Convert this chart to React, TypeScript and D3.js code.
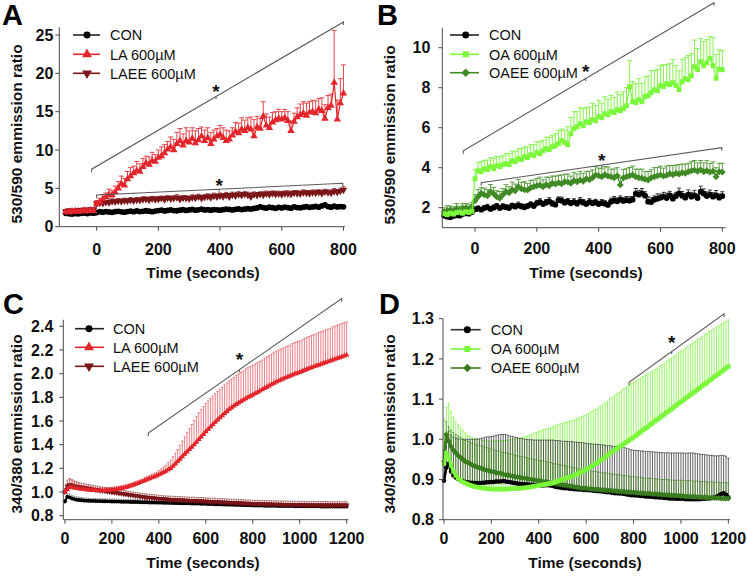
import React from "react";
import * as d3 from "d3";

const FONT = "'Liberation Sans', Arial, Helvetica, sans-serif";

// sampling grids (seconds)
const TIME_AB = d3.range(-100, 801, 10);
const TIME_CD = d3.range(0, 1201, 10);

// ---------- Panel A : 530/590, LA ----------
const A_CON = [1.75,1.70,1.65,1.72,1.68,1.74,1.78,1.72,1.80,1.76,
 1.85,1.95,1.90,1.98,1.92,1.88,1.96,2.00,1.94,1.90,
 1.98,2.02,1.95,2.05,1.98,2.00,2.08,2.02,1.96,2.04,
 2.10,2.15,2.05,2.12,2.20,2.10,2.08,2.15,2.22,2.12,
 2.18,2.25,2.15,2.20,2.28,2.18,2.22,2.16,2.24,2.20,
 2.15,2.22,2.30,2.25,2.18,2.26,2.32,2.24,2.28,2.35,
 2.30,2.38,2.45,2.60,2.50,2.42,2.55,2.48,2.40,2.52,
 2.45,2.55,2.48,2.42,2.58,2.50,2.46,2.55,2.62,2.52,
 2.58,2.65,2.55,2.70,2.85,2.62,2.55,2.68,2.58,2.62,2.60];
const A_CON_ERR = [0.15,0.12,0.14,0.10,0.13,0.12,0.15,0.11,0.14,0.12,
 0.15,0.18,0.14,0.16,0.12,0.15,0.17,0.13,0.16,0.14,
 0.15,0.12,0.16,0.14,0.18,0.13,0.15,0.17,0.12,0.16,
 0.18,0.14,0.16,0.15,0.19,0.13,0.17,0.15,0.18,0.14,
 0.16,0.19,0.15,0.17,0.14,0.18,0.16,0.15,0.19,0.17,
 0.15,0.18,0.16,0.20,0.14,0.17,0.19,0.15,0.18,0.16,
 0.20,0.17,0.22,0.25,0.19,0.18,0.21,0.17,0.20,0.18,
 0.19,0.22,0.18,0.20,0.23,0.17,0.21,0.19,0.22,0.18,
 0.20,0.23,0.19,0.21,0.25,0.20,0.18,0.22,0.19,0.21,0.20];
const A_LA = [1.95,1.90,2.00,2.05,1.98,2.02,2.10,2.05,2.15,2.08,
 3.00,3.20,3.60,3.90,4.20,4.10,4.50,5.00,5.60,5.40,
 6.20,6.60,7.00,7.30,7.20,7.80,8.30,8.10,8.60,8.50,
 9.00,9.20,9.60,10.10,10.40,10.00,10.80,11.20,10.60,11.20,
 11.00,11.50,10.90,11.30,11.80,11.20,11.60,10.80,11.40,11.80,
 12.00,11.60,11.20,11.40,11.90,12.40,12.20,12.70,12.50,12.90,
 12.70,11.80,13.00,12.80,14.40,13.20,12.90,13.60,13.90,14.10,
 14.00,14.20,13.80,12.50,13.70,14.30,14.60,14.80,14.50,14.90,
 15.00,14.80,15.30,15.10,14.10,15.50,15.80,18.80,14.00,16.10,17.40];
const A_LA_ERR = [0.25,0.20,0.30,0.20,0.25,0.20,0.30,0.20,0.25,0.30,
 0.40,0.50,0.60,0.50,0.70,0.60,0.80,0.90,1.00,0.90,
 1.00,1.10,0.90,1.20,1.00,1.10,0.90,1.00,1.10,0.90,
 1.00,1.20,1.10,1.00,1.30,1.40,1.50,1.60,1.50,1.70,
 1.50,1.40,1.60,1.50,1.20,1.40,1.30,1.50,1.20,1.00,
 1.20,1.30,1.40,1.10,1.00,1.20,1.30,1.50,1.40,1.30,
 1.60,2.20,1.40,1.30,1.90,1.50,1.40,1.30,1.10,1.20,
 1.00,1.10,1.20,1.30,1.10,1.20,1.40,1.50,1.60,1.40,
 1.50,1.60,1.40,1.70,1.80,1.60,1.50,6.80,2.50,3.20,3.70];
const A_LAEE = [2.00,2.10,1.95,2.05,2.15,2.10,2.20,2.15,2.25,2.20,
 3.00,3.10,3.05,3.20,3.15,3.30,3.25,3.35,3.30,3.40,
 3.35,3.45,3.40,3.50,3.45,3.55,3.60,3.50,3.65,3.55,
 3.60,3.70,3.55,3.75,3.65,3.70,3.80,3.60,3.75,3.70,
 3.65,3.80,3.75,3.90,3.70,3.85,3.95,3.80,4.00,3.90,
 4.05,3.95,4.10,3.90,4.15,4.05,4.20,4.10,4.25,4.15,
 3.90,4.20,4.10,4.25,4.15,4.30,4.20,4.35,4.25,4.30,
 4.20,4.35,4.30,4.25,4.40,4.35,4.30,4.45,4.40,4.35,
 4.45,4.40,4.50,4.35,4.55,4.45,4.40,4.60,4.50,4.65,4.80];
const A_LAEE_ERR = [0.20,0.25,0.18,0.22,0.24,0.20,0.26,0.22,0.25,0.20,
 0.30,0.28,0.32,0.26,0.30,0.34,0.28,0.31,0.27,0.33,
 0.30,0.35,0.28,0.32,0.30,0.36,0.29,0.33,0.31,0.35,
 0.32,0.30,0.36,0.28,0.34,0.31,0.37,0.30,0.33,0.35,
 0.31,0.36,0.30,0.34,0.38,0.32,0.35,0.30,0.37,0.33,
 0.35,0.30,0.38,0.33,0.36,0.31,0.37,0.34,0.32,0.36,
 0.40,0.33,0.36,0.31,0.38,0.34,0.35,0.32,0.37,0.33,
 0.36,0.32,0.38,0.34,0.31,0.37,0.33,0.36,0.32,0.38,
 0.34,0.37,0.32,0.39,0.33,0.36,0.35,0.38,0.34,0.37,0.40];

// ---------- Panel B : 530/590, OA ----------
const B_CON = [1.60,1.55,1.52,1.58,1.62,1.60,1.68,1.72,1.70,1.78,
 1.92,1.95,1.90,1.98,2.02,1.94,2.00,2.08,1.98,2.05,
 2.02,1.98,2.10,2.05,2.12,2.06,2.02,2.08,2.15,2.08,
 2.22,2.28,2.18,2.25,2.32,2.20,2.15,2.38,2.35,2.25,
 2.30,2.22,2.28,2.20,2.32,2.25,2.18,2.28,2.22,2.26,
 2.18,2.24,2.20,2.14,2.30,2.36,2.32,2.40,2.34,2.38,
 2.35,2.40,2.70,2.65,2.72,2.60,2.30,2.28,2.40,2.45,
 2.50,2.55,2.48,2.62,2.45,2.58,2.72,2.60,2.50,2.65,
 2.55,2.62,2.48,2.80,2.70,2.58,2.65,2.55,2.62,2.50,2.58];
const B_CON_ERR = [0.08,0.10,0.09,0.11,0.08,0.10,0.12,0.09,0.11,0.10,
 0.12,0.14,0.11,0.13,0.15,0.12,0.14,0.13,0.11,0.15,
 0.13,0.15,0.12,0.14,0.16,0.13,0.15,0.12,0.14,0.16,
 0.15,0.17,0.14,0.16,0.18,0.15,0.13,0.16,0.18,0.15,
 0.16,0.14,0.17,0.15,0.18,0.16,0.14,0.17,0.15,0.16,
 0.14,0.17,0.15,0.13,0.18,0.20,0.17,0.19,0.16,0.18,
 0.20,0.16,0.26,0.22,0.24,0.20,0.25,0.22,0.19,0.24,
 0.18,0.22,0.25,0.20,0.23,0.19,0.26,0.21,0.20,0.24,
 0.22,0.25,0.20,0.28,0.24,0.21,0.23,0.20,0.24,0.19,0.22];
const B_OA = [1.70,1.65,1.72,1.68,1.75,1.78,1.72,1.80,1.76,1.82,
 3.45,3.85,3.80,3.95,3.90,4.05,3.95,4.10,4.05,4.15,
 4.20,4.15,4.35,4.30,4.45,4.40,4.55,4.50,4.65,4.60,
 4.75,4.70,4.85,4.95,4.90,5.05,5.10,5.20,5.35,5.25,
 5.15,5.70,5.95,6.05,6.20,6.10,6.30,6.25,6.40,6.35,
 6.55,6.50,6.70,6.65,6.80,6.75,6.90,6.85,6.95,7.10,
 8.05,7.30,7.25,7.40,7.30,7.55,7.60,7.75,7.90,7.85,
 8.10,8.05,8.20,8.15,8.25,8.10,7.90,8.30,8.45,8.40,
 8.60,9.05,8.90,9.30,9.10,9.25,9.47,9.10,8.47,8.92,8.90];
const B_OA_ERR = [0.12,0.15,0.10,0.14,0.12,0.16,0.13,0.15,0.12,0.14,
 0.45,0.40,0.50,0.42,0.48,0.44,0.52,0.46,0.50,0.45,
 0.50,0.55,0.48,0.52,0.50,0.56,0.48,0.54,0.50,0.55,
 0.55,0.60,0.52,0.58,0.62,0.55,0.60,0.65,0.58,0.62,
 0.90,0.80,0.85,0.75,0.80,0.85,0.70,0.78,0.82,0.75,
 0.80,0.72,0.85,0.78,0.82,0.76,0.88,0.80,0.84,0.90,
 1.30,1.00,0.95,1.05,0.92,1.00,0.98,1.10,0.95,1.05,
 1.00,1.10,0.95,1.05,1.15,1.00,0.95,1.10,1.05,1.20,
 1.10,1.33,1.05,1.17,1.20,1.15,1.08,1.40,1.20,0.97,0.95];
const B_OAEE = [1.80,1.85,1.90,1.82,1.95,1.88,1.98,2.00,1.92,2.05,
 2.35,2.55,2.72,2.65,2.60,2.80,2.70,2.55,2.47,2.65,
 2.80,2.75,2.90,2.85,3.05,2.95,2.90,2.88,3.00,3.05,
 3.10,3.13,3.05,3.15,3.10,3.22,3.18,3.25,3.20,3.30,
 3.28,3.22,3.35,3.30,3.38,3.32,3.45,3.40,3.50,3.64,
 3.60,3.55,3.65,3.58,3.55,3.50,3.60,3.14,3.50,3.55,
 3.60,3.64,3.55,3.50,3.47,3.42,3.38,3.50,3.55,3.60,
 3.64,3.58,3.62,3.70,3.65,3.72,3.68,3.75,3.72,3.80,
 3.85,3.88,3.82,3.90,3.80,3.85,3.78,3.82,3.55,3.80,3.78];
const B_OAEE_ERR = [0.20,0.25,0.18,0.22,0.26,0.20,0.24,0.21,0.25,0.22,
 0.30,0.35,0.28,0.33,0.30,0.36,0.32,0.30,0.34,0.31,
 0.35,0.30,0.38,0.33,0.36,0.32,0.40,0.34,0.37,0.33,
 0.36,0.40,0.34,0.38,0.42,0.36,0.40,0.37,0.43,0.38,
 0.40,0.36,0.42,0.38,0.44,0.40,0.37,0.42,0.39,0.41,
 0.38,0.42,0.40,0.45,0.38,0.43,0.40,0.36,0.42,0.39,
 0.41,0.44,0.38,0.42,0.46,0.40,0.43,0.39,0.45,0.41,
 0.44,0.40,0.46,0.42,0.45,0.41,0.48,0.43,0.46,0.42,
 0.45,0.48,0.42,0.46,0.44,0.50,0.43,0.47,0.45,0.42,0.44];

// ---------- Panel C : 340/380, LA ----------
const C_CON = [0.920,0.960,0.955,0.945,0.940,0.935,0.932,0.930,0.928,0.927,
 0.926,0.925,0.925,0.924,0.923,0.923,0.922,0.922,0.921,0.921,
 0.920,0.920,0.919,0.919,0.918,0.918,0.917,0.917,0.916,0.916,
 0.915,0.915,0.914,0.914,0.913,0.913,0.912,0.912,0.911,0.911,
 0.910,0.910,0.909,0.909,0.908,0.908,0.907,0.907,0.906,0.906,
 0.905,0.905,0.904,0.904,0.903,0.903,0.902,0.902,0.901,0.901,
 0.900,0.899,0.899,0.898,0.897,0.897,0.896,0.895,0.895,0.894,
 0.893,0.893,0.892,0.891,0.891,0.890,0.889,0.889,0.888,0.887,
 0.887,0.886,0.886,0.885,0.885,0.884,0.884,0.884,0.883,0.883,
 0.883,0.882,0.882,0.882,0.881,0.881,0.881,0.881,0.880,0.880,
 0.880,0.880,0.880,0.879,0.879,0.879,0.879,0.879,0.879,0.878,
 0.878,0.878,0.878,0.878,0.878,0.878,0.878,0.878,0.878,0.878,0.878];
const C_CON_ERR = [0.020,0.030,0.030,0.028,0.026,0.025,0.024,0.023,0.022,0.022,
 0.021,0.021,0.020,0.021,0.020,0.020,0.021,0.020,0.020,0.021,
 0.020,0.020,0.021,0.020,0.020,0.021,0.020,0.020,0.020,0.021,
 0.020,0.021,0.020,0.020,0.021,0.020,0.020,0.021,0.020,0.020,
 0.021,0.020,0.020,0.021,0.020,0.020,0.021,0.020,0.020,0.021,
 0.020,0.020,0.021,0.020,0.020,0.021,0.020,0.021,0.020,0.020,
 0.021,0.020,0.020,0.021,0.020,0.021,0.020,0.020,0.021,0.020,
 0.020,0.021,0.020,0.020,0.021,0.020,0.020,0.021,0.020,0.021,
 0.020,0.020,0.021,0.020,0.021,0.020,0.020,0.021,0.020,0.020,
 0.021,0.020,0.020,0.021,0.020,0.020,0.021,0.020,0.021,0.020,
 0.020,0.021,0.020,0.020,0.021,0.020,0.021,0.020,0.020,0.021,
 0.020,0.020,0.021,0.020,0.021,0.020,0.020,0.021,0.020,0.020,0.021];
const C_LA = [1.000,1.020,1.040,1.040,1.035,1.030,1.028,1.025,1.022,1.020,
 1.018,1.016,1.014,1.013,1.012,1.012,1.012,1.013,1.014,1.016,
 1.018,1.021,1.024,1.027,1.031,1.035,1.040,1.046,1.052,1.059,
 1.066,1.073,1.081,1.089,1.097,1.105,1.113,1.121,1.129,1.137,
 1.146,1.156,1.166,1.177,1.189,1.200,1.218,1.238,1.258,1.279,
 1.300,1.320,1.340,1.360,1.380,1.400,1.422,1.444,1.466,1.488,
 1.510,1.530,1.550,1.570,1.590,1.610,1.628,1.646,1.664,1.682,
 1.700,1.714,1.728,1.741,1.754,1.766,1.778,1.790,1.801,1.811,
 1.821,1.832,1.843,1.854,1.865,1.876,1.887,1.898,1.909,1.920,
 1.930,1.939,1.948,1.957,1.966,1.974,1.982,1.990,1.998,2.005,
 2.012,2.020,2.028,2.036,2.044,2.052,2.059,2.066,2.073,2.080,
 2.087,2.094,2.101,2.108,2.115,2.122,2.129,2.136,2.143,2.150,2.158];
const C_LA_ERR = [0.030,0.050,0.070,0.060,0.050,0.040,0.040,0.030,0.030,0.030,
 0.030,0.030,0.020,0.020,0.020,0.020,0.020,0.020,0.020,0.020,
 0.020,0.020,0.020,0.020,0.020,0.020,0.020,0.020,0.020,0.020,
 0.020,0.020,0.020,0.020,0.025,0.025,0.025,0.030,0.030,0.030,
 0.035,0.040,0.045,0.050,0.060,0.070,0.080,0.090,0.100,0.115,
 0.130,0.145,0.160,0.175,0.190,0.205,0.215,0.225,0.230,0.235,
 0.240,0.240,0.240,0.240,0.240,0.240,0.240,0.240,0.240,0.240,
 0.240,0.240,0.240,0.245,0.245,0.245,0.245,0.250,0.250,0.250,
 0.250,0.250,0.250,0.250,0.250,0.255,0.255,0.255,0.255,0.260,
 0.260,0.260,0.260,0.260,0.260,0.260,0.260,0.265,0.265,0.265,
 0.265,0.265,0.270,0.270,0.270,0.270,0.270,0.270,0.275,0.275,
 0.275,0.275,0.275,0.275,0.280,0.280,0.280,0.280,0.280,0.280,0.280];
const C_LAEE = [1.000,1.050,1.060,1.055,1.050,1.046,1.042,1.038,1.035,1.032,
 1.029,1.026,1.023,1.020,1.017,1.014,1.011,1.008,1.005,1.002,
 0.999,0.996,0.993,0.990,0.987,0.984,0.981,0.978,0.975,0.972,
 0.969,0.966,0.963,0.960,0.957,0.955,0.953,0.951,0.949,0.947,
 0.945,0.943,0.941,0.939,0.937,0.936,0.935,0.934,0.933,0.932,
 0.931,0.930,0.929,0.928,0.927,0.926,0.925,0.924,0.923,0.922,
 0.921,0.920,0.919,0.918,0.917,0.916,0.915,0.914,0.913,0.912,
 0.911,0.910,0.909,0.908,0.907,0.906,0.905,0.904,0.903,0.902,
 0.901,0.900,0.900,0.899,0.899,0.898,0.898,0.897,0.897,0.896,
 0.896,0.895,0.895,0.894,0.894,0.893,0.893,0.893,0.892,0.892,
 0.892,0.891,0.891,0.891,0.890,0.890,0.890,0.890,0.889,0.889,
 0.889,0.889,0.889,0.888,0.888,0.888,0.888,0.888,0.888,0.888,0.888];
const C_LAEE_ERR = [0.030,0.050,0.055,0.050,0.045,0.042,0.040,0.038,0.036,0.035,
 0.034,0.033,0.033,0.032,0.032,0.031,0.031,0.030,0.030,0.030,
 0.030,0.030,0.029,0.029,0.029,0.029,0.029,0.028,0.028,0.028,
 0.028,0.028,0.028,0.028,0.028,0.028,0.028,0.028,0.028,0.028,
 0.028,0.028,0.028,0.028,0.028,0.029,0.029,0.029,0.029,0.029,
 0.029,0.029,0.029,0.029,0.029,0.030,0.030,0.030,0.030,0.030,
 0.030,0.030,0.030,0.030,0.030,0.030,0.030,0.030,0.030,0.030,
 0.030,0.030,0.030,0.030,0.030,0.030,0.030,0.030,0.030,0.030,
 0.030,0.030,0.030,0.030,0.030,0.030,0.030,0.030,0.030,0.030,
 0.030,0.030,0.030,0.030,0.030,0.030,0.030,0.030,0.030,0.030,
 0.030,0.030,0.030,0.030,0.030,0.030,0.030,0.030,0.030,0.030,
 0.030,0.030,0.030,0.030,0.030,0.030,0.030,0.030,0.030,0.030,0.030];

// ---------- Panel D : 340/380, OA ----------
const D_CON = [0.897,0.930,0.940,0.920,0.910,0.905,0.901,0.898,0.896,0.894,
 0.893,0.892,0.892,0.891,0.891,0.891,0.892,0.892,0.893,0.893,
 0.894,0.894,0.895,0.895,0.895,0.896,0.895,0.894,0.893,0.892,
 0.891,0.890,0.889,0.889,0.888,0.888,0.887,0.887,0.886,0.886,
 0.886,0.885,0.885,0.886,0.886,0.885,0.884,0.882,0.881,0.880,
 0.879,0.878,0.878,0.877,0.877,0.876,0.876,0.875,0.875,0.874,
 0.874,0.873,0.873,0.872,0.872,0.871,0.871,0.870,0.869,0.868,
 0.868,0.867,0.866,0.866,0.865,0.865,0.864,0.863,0.862,0.861,
 0.861,0.860,0.860,0.859,0.859,0.858,0.858,0.857,0.857,0.856,
 0.856,0.855,0.855,0.854,0.854,0.853,0.853,0.853,0.852,0.852,
 0.852,0.852,0.851,0.851,0.851,0.851,0.851,0.851,0.851,0.852,
 0.852,0.853,0.853,0.854,0.855,0.857,0.860,0.864,0.866,0.862,0.856];
const D_CON_ERR = [0.050,0.080,0.080,0.090,0.095,0.098,0.100,0.102,0.104,0.106,
 0.107,0.108,0.108,0.109,0.110,0.110,0.111,0.112,0.113,0.113,
 0.113,0.114,0.115,0.116,0.117,0.116,0.117,0.116,0.115,0.115,
 0.114,0.114,0.113,0.113,0.112,0.112,0.112,0.112,0.112,0.112,
 0.112,0.113,0.113,0.112,0.112,0.113,0.114,0.115,0.116,0.116,
 0.116,0.117,0.117,0.117,0.117,0.117,0.117,0.117,0.117,0.117,
 0.116,0.116,0.116,0.116,0.116,0.116,0.116,0.116,0.116,0.116,
 0.116,0.116,0.116,0.116,0.116,0.116,0.116,0.115,0.114,0.113,
 0.112,0.112,0.112,0.112,0.112,0.112,0.112,0.112,0.112,0.112,
 0.112,0.112,0.112,0.112,0.113,0.113,0.113,0.113,0.114,0.114,
 0.114,0.114,0.114,0.115,0.115,0.115,0.114,0.113,0.112,0.110,
 0.110,0.108,0.107,0.106,0.104,0.102,0.099,0.096,0.094,0.096,0.097];
const D_OA = [0.940,0.965,0.955,0.935,0.920,0.910,0.903,0.898,0.894,0.891,
 0.888,0.886,0.884,0.882,0.881,0.880,0.879,0.878,0.877,0.877,
 0.876,0.876,0.876,0.876,0.876,0.876,0.876,0.876,0.877,0.877,
 0.877,0.878,0.878,0.879,0.879,0.880,0.881,0.882,0.883,0.884,
 0.885,0.886,0.887,0.888,0.889,0.890,0.892,0.894,0.896,0.898,
 0.900,0.902,0.904,0.906,0.908,0.910,0.913,0.916,0.919,0.922,
 0.925,0.928,0.932,0.935,0.939,0.943,0.947,0.951,0.955,0.960,
 0.965,0.969,0.973,0.977,0.981,0.985,0.989,0.993,0.997,1.001,
 1.005,1.009,1.014,1.018,1.023,1.027,1.031,1.036,1.040,1.045,
 1.049,1.053,1.058,1.062,1.067,1.071,1.075,1.080,1.084,1.089,
 1.093,1.097,1.102,1.106,1.111,1.115,1.119,1.124,1.128,1.133,
 1.137,1.141,1.146,1.150,1.155,1.159,1.163,1.168,1.172,1.177,1.181];
const D_OA_ERR = [0.110,0.115,0.135,0.135,0.135,0.135,0.133,0.130,0.128,0.125,
 0.122,0.121,0.120,0.120,0.119,0.119,0.119,0.119,0.119,0.119,
 0.119,0.119,0.120,0.120,0.120,0.121,0.121,0.122,0.122,0.123,
 0.123,0.124,0.125,0.126,0.127,0.128,0.129,0.130,0.132,0.133,
 0.135,0.136,0.137,0.137,0.138,0.138,0.139,0.139,0.140,0.140,
 0.140,0.140,0.139,0.139,0.139,0.138,0.138,0.137,0.137,0.136,
 0.136,0.136,0.136,0.136,0.135,0.135,0.135,0.135,0.135,0.135,
 0.135,0.135,0.136,0.136,0.136,0.137,0.137,0.137,0.137,0.137,
 0.137,0.136,0.135,0.134,0.133,0.132,0.131,0.130,0.129,0.128,
 0.128,0.128,0.127,0.127,0.127,0.127,0.126,0.126,0.126,0.126,
 0.126,0.126,0.125,0.125,0.125,0.124,0.124,0.124,0.123,0.123,
 0.123,0.122,0.122,0.121,0.120,0.120,0.119,0.118,0.117,0.117,0.116];
const D_OAEE = [0.945,1.012,0.995,0.982,0.973,0.966,0.960,0.955,0.950,0.945,
 0.942,0.939,0.936,0.933,0.931,0.929,0.927,0.925,0.923,0.922,
 0.920,0.919,0.917,0.916,0.915,0.913,0.912,0.911,0.910,0.908,
 0.907,0.906,0.905,0.904,0.903,0.902,0.901,0.900,0.899,0.898,
 0.897,0.896,0.895,0.894,0.893,0.892,0.891,0.890,0.889,0.888,
 0.887,0.886,0.885,0.884,0.883,0.882,0.881,0.880,0.879,0.878,
 0.878,0.877,0.877,0.876,0.876,0.875,0.875,0.874,0.874,0.873,
 0.873,0.872,0.872,0.871,0.871,0.870,0.870,0.869,0.869,0.868,
 0.868,0.867,0.867,0.866,0.866,0.865,0.865,0.865,0.864,0.864,
 0.863,0.863,0.862,0.862,0.862,0.861,0.861,0.860,0.860,0.860,
 0.859,0.859,0.858,0.858,0.858,0.857,0.857,0.857,0.856,0.856,
 0.856,0.855,0.855,0.855,0.854,0.854,0.854,0.853,0.853,0.853,0.853];
const D_OAEE_ERR = [0.030,0.032,0.036,0.041,0.044,0.046,0.048,0.050,0.051,0.052,
 0.053,0.054,0.054,0.055,0.055,0.055,0.056,0.056,0.056,0.056,
 0.056,0.055,0.055,0.055,0.055,0.054,0.054,0.054,0.054,0.054,
 0.053,0.053,0.053,0.053,0.052,0.052,0.052,0.052,0.051,0.051,
 0.051,0.051,0.050,0.050,0.050,0.050,0.049,0.049,0.049,0.049,
 0.048,0.048,0.048,0.048,0.047,0.047,0.047,0.046,0.046,0.046,
 0.045,0.045,0.045,0.044,0.044,0.044,0.043,0.043,0.043,0.042,
 0.042,0.042,0.041,0.041,0.041,0.040,0.040,0.040,0.040,0.039,
 0.039,0.039,0.039,0.039,0.038,0.038,0.038,0.038,0.038,0.038,
 0.038,0.038,0.038,0.038,0.038,0.038,0.038,0.038,0.038,0.038,
 0.039,0.039,0.039,0.039,0.039,0.039,0.039,0.039,0.039,0.039,
 0.039,0.039,0.039,0.039,0.039,0.039,0.039,0.039,0.039,0.039,0.039];

// tick labels
const X_TICKS_AB = [0, 200, 400, 600, 800];
const X_TICKS_CD = [0, 200, 400, 600, 800, 1000, 1200];
const Y_TICKS_A = [0, 5, 10, 15, 20, 25];
const Y_TICKS_B = [2, 4, 6, 8, 10];
const Y_TICKS_C = [0.8, 1.0, 1.2, 1.4, 1.6, 1.8, 2.0, 2.2, 2.4];
const Y_TICKS_D = [0.8, 0.9, 1.0, 1.1, 1.2, 1.3];

const AXIS = "#4a4a4a";
const SIG = "#5a5a5a";

type Shape = "circle" | "up" | "down" | "square" | "diamond";
type Series = {
  label: string; values: number[]; errors: number[];
  color: string; lineColor: string; errColor: string; errW: number; capW: number;
  shape: Shape; size: number; lineW: number; legendSize: number; legendLine: string;
};

function symPath(shape: Shape, size: number): string {
  const t = shape === "circle" ? d3.symbolCircle : (shape === "square" || shape === "diamond") ? d3.symbolSquare : d3.symbolTriangle;
  return d3.symbol().type(t).size(size)() as string;
}
function symRot(shape: Shape) { return shape === "down" ? 180 : shape === "diamond" ? 45 : 0; }

type Cfg = {
  letter: string; letterX: number; letterY: number;
  xDomain: [number, number]; xRange: [number, number];
  yDomain: [number, number]; yRange: [number, number];
  xTicks: number[]; yTicks: number[]; yFmt: (v: number) => string;
  yGap: number; xTickBase: number;
  xTitle: [number, number]; yTitle: [number, number]; yText: string;
  times: number[]; series: Series[]; errOrder: number[]; meanOrder: number[];
  legend: { x1: number; x2: number; mx: number; tx: number; ys: number[] };
  sig: { a: [number, number]; b: [number, number]; star: [number, number]; hooks: boolean }[];
};

function Panel({ c }: { c: Cfg }) {
  const xs = d3.scaleLinear().domain(c.xDomain).range(c.xRange);
  const ys = d3.scaleLinear().domain(c.yDomain).range(c.yRange);
  const [xl, xr] = c.xRange;
  const [yb, yt] = c.yRange;
  const n = c.times.length;

  const errPath = (s: Series) => {
    let d = "";
    for (let i = 0; i < Math.min(n, s.values.length); i++) {
      const x = xs(c.times[i]);
      const y0 = ys(s.values[i]);
      const y1 = ys(s.values[i] + s.errors[i]);
      d += `M${x},${y0}V${y1}M${x - s.capW / 2},${y1}H${x + s.capW / 2}`;
    }
    return d;
  };
  const line = (s: Series) =>
    d3.line<number>().x((_, i) => xs(c.times[i])).y((v) => ys(v))(s.values.slice(0, n)) as string;

  return (
    <g>
      {c.errOrder.map((k) => {
        const s = c.series[k];
        return <path key={"e" + k} d={errPath(s)} stroke={s.errColor} strokeWidth={s.errW} fill="none" />;
      })}
      {c.meanOrder.map((k) => {
        const s = c.series[k];
        const p = symPath(s.shape, s.size);
        const r = symRot(s.shape);
        return (
          <g key={"m" + k}>
            <path d={line(s)} stroke={s.lineColor} strokeWidth={s.lineW} fill="none" />
            {s.values.slice(0, n).map((v, i) => (
              <path key={i} d={p} fill={s.color}
                transform={`translate(${xs(c.times[i])},${ys(v)}) rotate(${r})`} />
            ))}
          </g>
        );
      })}
      <g stroke={AXIS} strokeWidth={1} fill="none">
        <line x1={xl} x2={xl} y1={yb} y2={yt} />
        <line x1={xl} x2={xr} y1={yb} y2={yb} />
        {c.yTicks.map((v) => <line key={"yt" + v} x1={xl - 4} x2={xl} y1={ys(v)} y2={ys(v)} />)}
        {c.xTicks.map((v) => <line key={"xt" + v} x1={xs(v)} x2={xs(v)} y1={yb} y2={yb + 4} />)}
      </g>
      <g fontFamily={FONT} fontWeight="bold" fontSize={16} fill="#111">
        {c.yTicks.map((v) => (
          <text key={"yl" + v} x={xl - c.yGap} y={ys(v)} dy="0.36em" textAnchor="end">{c.yFmt(v)}</text>
        ))}
        {c.xTicks.map((v) => (
          <text key={"xl" + v} x={xs(v)} y={c.xTickBase} textAnchor="middle">{v}</text>
        ))}
      </g>
      <text x={c.xTitle[0]} y={c.xTitle[1]} textAnchor="middle" fontFamily={FONT} fontWeight="bold" fontSize={15.5} fill="#111">Time (seconds)</text>
      <text transform={`translate(${c.yTitle[0]},${c.yTitle[1]}) rotate(-90)`} dy="0.36em" textAnchor="middle"
        fontFamily={FONT} fontWeight="bold" fontSize={15.5} fill="#111">{c.yText}</text>
      <text x={c.letterX} y={c.letterY} fontFamily={FONT} fontWeight="bold" fontSize={29} fill="#000">{c.letter}</text>
      {c.sig.map((g, i) => {
        const ax = xs(g.a[0]), ay = ys(g.a[1]), bx = xs(g.b[0]), by = ys(g.b[1]);
        const sx = xs(g.star[0]), sy = ys(g.star[1]);
        const f = (sx - ax) / (bx - ax);
        const my = ay + f * (by - ay);
        return (
          <g key={"s" + i}>
            <path d={`M${ax},${ay + (g.hooks ? 3 : 0)}L${ax},${ay}L${bx},${by}L${bx},${by + (g.hooks ? 3 : 0)}M${sx},${my}V${my + 2.5}`}
              stroke={SIG} strokeWidth={1.1} fill="none" />
            <text x={sx} y={sy + 10} textAnchor="middle" fontFamily={FONT} fontWeight="bold" fontSize={19} fill="#111">*</text>
          </g>
        );
      })}
      {c.series.map((s, i) => {
        const y = c.legend.ys[i];
        return (
          <g key={"lg" + i}>
            <line x1={c.legend.x1} x2={c.legend.x2} y1={y} y2={y} stroke={s.legendLine} strokeWidth={1.6} />
            <path d={symPath(s.shape, s.legendSize)} fill={s.color}
              transform={`translate(${c.legend.mx},${y}) rotate(${symRot(s.shape)})`} />
            <text x={c.legend.tx} y={y} dy="0.36em" fontFamily={FONT} fontSize={14.5} fill="#111">{s.label}</text>
          </g>
        );
      })}
    </g>
  );
}

const RED = "#e3262b";
const MAROON = "#7a1518";
const LIME = "#7cf83c";
const DKGREEN = "#3f8a24";

const fmtInt = (v: number) => d3.format("d")(v);
const fmt1 = (v: number) => d3.format(".1f")(v);

const panelA: Cfg = {
  letter: "A", letterX: 2, letterY: 25,
  xDomain: [-121, 805], xRange: [59.3, 345], yDomain: [0, 26], yRange: [226.7, 27.3],
  xTicks: X_TICKS_AB, yTicks: Y_TICKS_A, yFmt: fmtInt, yGap: 6, xTickBase: 255,
  xTitle: [203, 277.5], yTitle: [16, 134], yText: "530/590 emmission ratio",
  times: TIME_AB,
  series: [
    { label: "CON", values: A_CON, errors: A_CON_ERR, color: "#000", lineColor: "#000", errColor: "#222", errW: 0.8, capW: 3, shape: "circle", size: 26, lineW: 1.4, legendSize: 38, legendLine: "#222" },
    { label: "LA 600\u00b5M", values: A_LA, errors: A_LA_ERR, color: RED, lineColor: RED, errColor: "#e2474b", errW: 1, capW: 5, shape: "up", size: 24, lineW: 1.2, legendSize: 42, legendLine: RED },
    { label: "LAEE 600\u00b5M", values: A_LAEE, errors: A_LAEE_ERR, color: MAROON, lineColor: MAROON, errColor: "#8a2a2c", errW: 0.9, capW: 4, shape: "down", size: 24, lineW: 1.4, legendSize: 42, legendLine: MAROON },
  ],
  errOrder: [0, 2, 1], meanOrder: [0, 2, 1],
  legend: { x1: 73, x2: 100, mx: 87, tx: 110, ys: [35, 54.3, 73.3] },
  sig: [
    { a: [-16, 7.5], b: [800, 26.7], star: [387, 18.1], hooks: true },
    { a: [0, 4.13], b: [798, 5.66], star: [397, 5.87], hooks: true },
  ],
};

const panelB: Cfg = {
  letter: "B", letterX: 377, letterY: 25,
  xDomain: [-106, 811], xRange: [442.3, 725.7], yDomain: [1, 11], yRange: [227.7, 27.7],
  xTicks: X_TICKS_AB, yTicks: Y_TICKS_B, yFmt: fmtInt, yGap: 12, xTickBase: 254,
  xTitle: [586, 277.5], yTitle: [389, 135], yText: "530/590 emmission ratio",
  times: TIME_AB,
  series: [
    { label: "CON", values: B_CON, errors: B_CON_ERR, color: "#000", lineColor: "#000", errColor: "#222", errW: 0.9, capW: 4, shape: "circle", size: 26, lineW: 1.4, legendSize: 38, legendLine: "#222" },
    { label: "OA 600\u00b5M", values: B_OA, errors: B_OA_ERR, color: LIME, lineColor: LIME, errColor: "#86f24e", errW: 1, capW: 5, shape: "square", size: 24, lineW: 1.2, legendSize: 36, legendLine: LIME },
    { label: "OAEE 600\u00b5M", values: B_OAEE, errors: B_OAEE_ERR, color: DKGREEN, lineColor: DKGREEN, errColor: "#4f9632", errW: 0.9, capW: 5, shape: "diamond", size: 24, lineW: 1.2, legendSize: 36, legendLine: DKGREEN },
  ],
  errOrder: [0, 2, 1], meanOrder: [0, 2, 1],
  legend: { x1: 450, x2: 479, mx: 465.7, tx: 489, ys: [35, 54.3, 72.7] },
  sig: [
    { a: [-38, 4.85], b: [773, 12.25], star: [358, 8.97], hooks: true },
    { a: [20, 3.25], b: [798, 5.0], star: [410, 4.52], hooks: true },
  ],
};

const panelC: Cfg = {
  letter: "C", letterX: 3, letterY: 314,
  xDomain: [-7, 1207], xRange: [63.3, 348.3], yDomain: [0.766, 2.456], yRange: [519.7, 319.7],
  xTicks: X_TICKS_CD, yTicks: Y_TICKS_C, yFmt: fmt1, yGap: 10, xTickBase: 543.5,
  xTitle: [203, 567.5], yTitle: [16, 424], yText: "340/380 emmission ratio",
  times: TIME_CD,
  series: [
    { label: "CON", values: C_CON, errors: C_CON_ERR, color: "#000", lineColor: "#000", errColor: "#777", errW: 0.7, capW: 2, shape: "circle", size: 12, lineW: 2, legendSize: 38, legendLine: "#222" },
    { label: "LA 600\u00b5M", values: C_LA, errors: C_LA_ERR, color: RED, lineColor: RED, errColor: "#e2626a", errW: 0.8, capW: 2.4, shape: "up", size: 14, lineW: 2.6, legendSize: 42, legendLine: RED },
    { label: "LAEE 600\u00b5M", values: C_LAEE, errors: C_LAEE_ERR, color: MAROON, lineColor: MAROON, errColor: "#9a4a4c", errW: 0.7, capW: 2.2, shape: "down", size: 14, lineW: 2.6, legendSize: 42, legendLine: MAROON },
  ],
  errOrder: [0, 2, 1], meanOrder: [0, 2, 1],
  legend: { x1: 75, x2: 104, mx: 89, tx: 113, ys: [328.7, 347.3, 366.3] },
  sig: [{ a: [355, 1.499], b: [1179, 2.634], star: [743, 2.147], hooks: true }],
};

const panelD: Cfg = {
  letter: "D", letterX: 379, letterY: 314,
  xDomain: [-4, 1207], xRange: [443, 730], yDomain: [0.8, 1.3], yRange: [519.7, 318.7],
  xTicks: X_TICKS_CD, yTicks: Y_TICKS_D, yFmt: fmt1, yGap: 9, xTickBase: 543.5,
  xTitle: [585, 567.5], yTitle: [389, 424], yText: "340/380 emmission ratio",
  times: TIME_CD,
  series: [
    { label: "CON", values: D_CON, errors: D_CON_ERR, color: "#000", lineColor: "#000", errColor: "#3c3c3c", errW: 0.8, capW: 2.2, shape: "circle", size: 16, lineW: 2.6, legendSize: 38, legendLine: "#333" },
    { label: "OA 600\u00b5M", values: D_OA, errors: D_OA_ERR, color: LIME, lineColor: LIME, errColor: "#8cf456", errW: 0.9, capW: 2.4, shape: "square", size: 20, lineW: 3.2, legendSize: 36, legendLine: LIME },
    { label: "OAEE 600\u00b5M", values: D_OAEE, errors: D_OAEE_ERR, color: "#3a7d20", lineColor: "#3a7d20", errColor: "#4f8f30", errW: 0.8, capW: 2.2, shape: "diamond", size: 18, lineW: 3, legendSize: 36, legendLine: "#3a7d20" },
  ],
  errOrder: [1, 0, 2], meanOrder: [0, 2, 1],
  legend: { x1: 450.7, x2: 480.7, mx: 467.3, tx: 490.7, ys: [329.7, 349, 368] },
  sig: [{ a: [781, 1.142], b: [1182, 1.312], star: [961, 1.25], hooks: true }],
};

export default function App() {
  return (
    <svg width={747} height={576} viewBox="0 0 747 576"
      style={{ position: "absolute", left: 0, top: 0, background: "#fff" }}>
      <rect x={0} y={0} width={747} height={576} fill="#fff" />
      <Panel c={panelA} />
      <Panel c={panelB} />
      <Panel c={panelC} />
      <Panel c={panelD} />
    </svg>
  );
}
